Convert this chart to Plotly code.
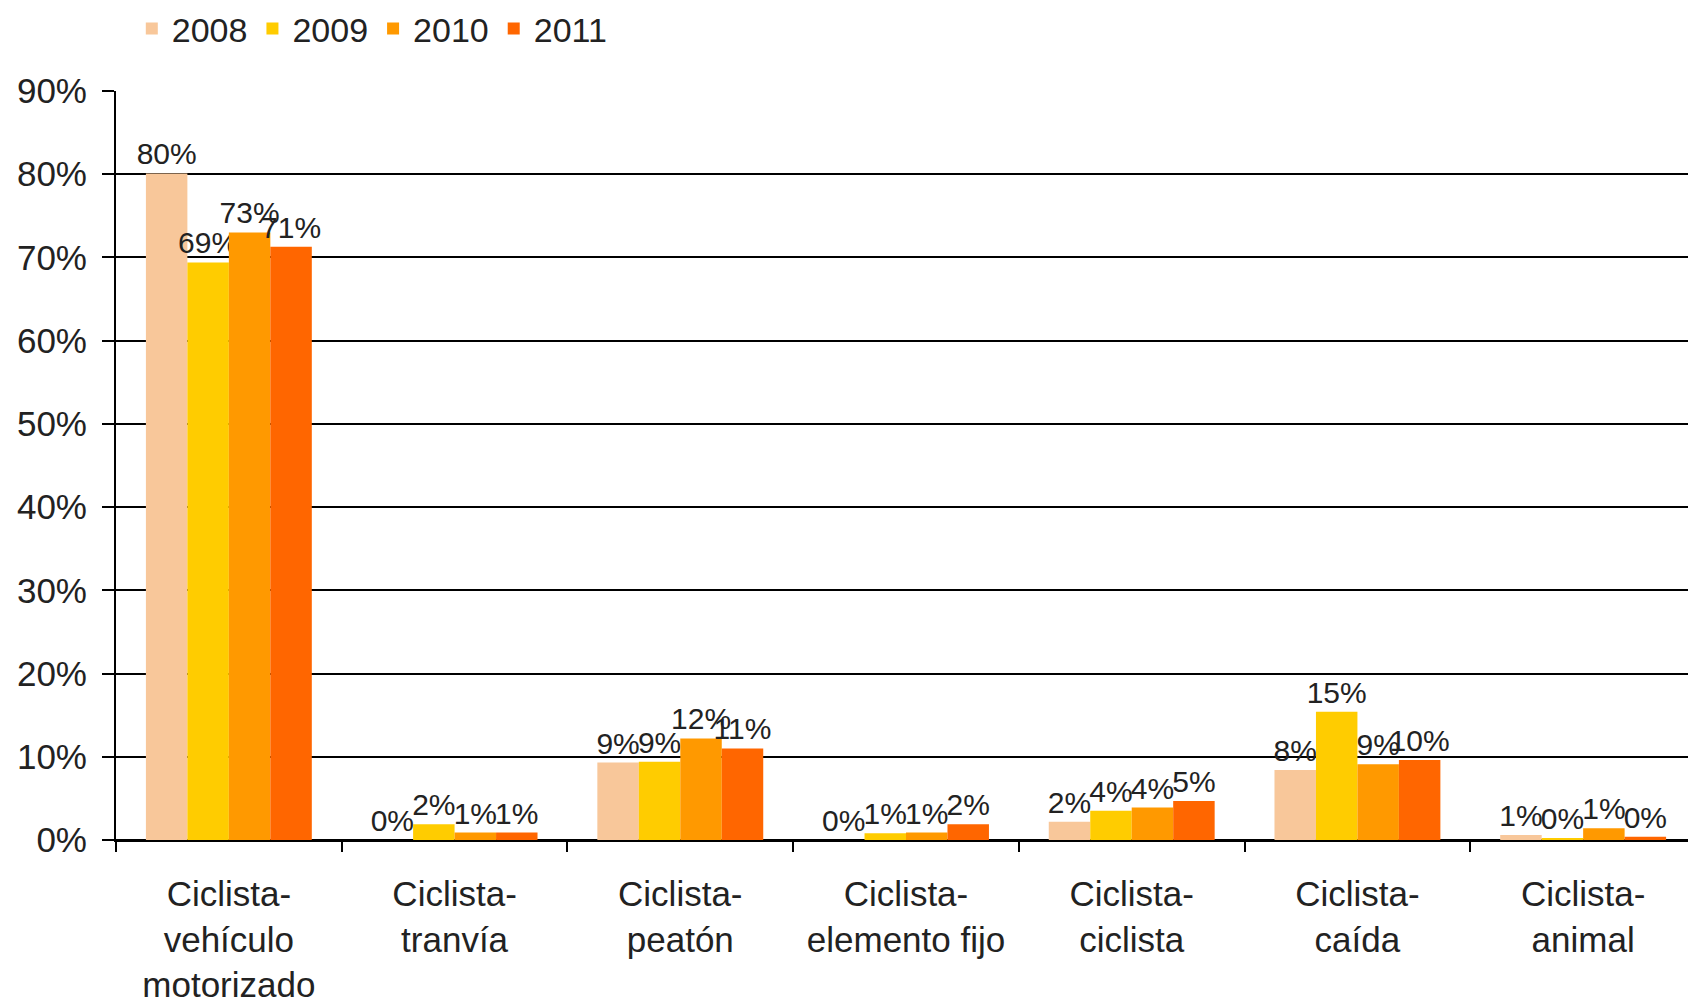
import plotly.graph_objects as go

# ── Datos ─────────────────────────────────────────────────────────────────────
CATEGORIAS = [
    "Ciclista-<br>vehículo<br>motorizado",
    "Ciclista-<br>tranvía",
    "Ciclista-<br>peatón",
    "Ciclista-<br>elemento fijo",
    "Ciclista-<br>ciclista",
    "Ciclista-<br>caída",
    "Ciclista-<br>animal",
]
ANIOS = ["2008", "2009", "2010", "2011"]

V_2008 = [80.1, 0.0, 9.3, 0.0, 2.2, 8.4, 0.6]
V_2009 = [69.4, 1.9, 9.4, 0.8, 3.5, 15.4, 0.2]
V_2010 = [73.0, 0.9, 12.2, 0.9, 3.9, 9.1, 1.4]
V_2011 = [71.3, 0.9, 11.0, 1.9, 4.7, 9.6, 0.4]
VALORES = [V_2008, V_2009, V_2010, V_2011]

COLORES = ["#F8C79A", "#FFCC00", "#FF9900", "#FF6600"]

FUENTE = "Liberation Sans, Arial, sans-serif"

fig = go.Figure()
for anio, vals, color in zip(ANIOS, VALORES, COLORES):
    fig.add_trace(go.Bar(
        x=CATEGORIAS, y=vals, name=anio,
        marker=dict(color=color, line=dict(width=0)),
        texttemplate="%{y:.0f}%",
        textposition="outside",
        constraintext="none",
        cliponaxis=False,
        textfont=dict(size=30, color="#222", family=FUENTE),
    ))

# la página añade ~8 px de margen arriba/izquierda: se compensa en el tamaño
fig.update_layout(
    barmode="group",
    bargap=0.265,
    bargroupgap=0,
    width=1688, height=995,
    paper_bgcolor="white",
    plot_bgcolor="white",
    font=dict(family=FUENTE, size=34, color="#222"),
    margin=dict(l=108, r=0, t=83, b=163, autoexpand=False),
    showlegend=True,
    legend=dict(
        orientation="h", x=0.01, xanchor="left", y=1.083, yanchor="middle",
        font=dict(size=34), bgcolor="rgba(0,0,0,0)", traceorder="normal",
        itemwidth=30,
    ),
    xaxis=dict(
        showline=True, linecolor="black", linewidth=2,
        ticks="outside", tickson="boundaries", ticklen=10, tickwidth=2, tickcolor="black",
        ticklabelstandoff=22,
        tickfont=dict(size=35, color="#222"),
        showgrid=False,
    ),
    yaxis=dict(
        range=[0, 90], dtick=10, ticksuffix="%",
        showline=True, linecolor="black", linewidth=2,
        ticks="outside", ticklen=12, tickwidth=2, tickcolor="black",
        ticklabelstandoff=8,
        showgrid=True, gridcolor="black", gridwidth=2,
        zeroline=True, zerolinecolor="black", zerolinewidth=2,
        tickfont=dict(size=35, color="#222"),
    ),
)

fig.write_html("out.html")
